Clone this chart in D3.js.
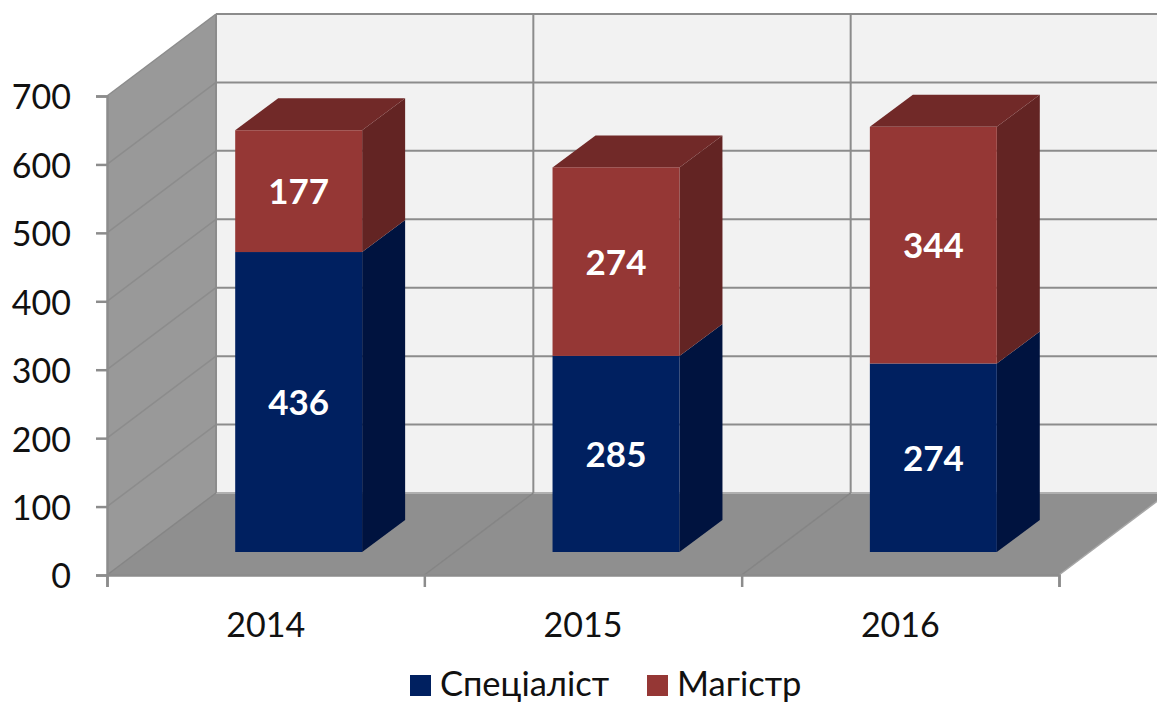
<!DOCTYPE html>
<html>
<head>
<meta charset="utf-8">
<script src="https://cdn.jsdelivr.net/npm/d3@7"></script>
<style>
	html, body { margin: 0; padding: 0; background: #fff; }
	svg { display: block; }
	text { font-family: Lato, "Open Sans", sans-serif; }
</style>
</head>
<body>
<div id="chart"></div>
<script>
//Chart values
let years = ["2014", "2015", "2016"];
let seriesNames = ["Спеціаліст", "Магістр"];
let specialist = [436, 285, 274];
let master = [177, 274, 344];
let yTicks = [0, 100, 200, 300, 400, 500, 600, 700];

//Colours: front, side, top
let seriesColors = [
	["#002060", "#00133f", "#00133f"],
	["#953735", "#632423", "#712928"]
];

//Dimensions
let width = 1157;
let height = 703;
let axisLeft = 107;
let axisRight = 1059;
let wallDx = 109;
let wallDy = -82;
let barShiftX = 33;
let barFloor = 552;
let barDx = 43;
let barDy = -32;

//Scales
let y = d3.scaleLinear().domain([0, 700]).range([575, 96]);
let yBar = d3.scaleLinear().domain([0, 700]).range([barFloor, barFloor - 481.6]);
let x = d3.scaleBand().domain(years).range([axisLeft, axisRight]).paddingInner(0.6).paddingOuter(0.3);
let xEdges = d3.scaleLinear().domain([0, years.length]).range([axisLeft, axisRight]);

let table = years.map(function(d, i){
	return { year: d, "Спеціаліст": specialist[i], "Магістр": master[i] };
});
let stacked = d3.stack().keys(seriesNames)(table);

//SVG container
let svg = d3.select("#chart").append("svg")
	.attr("width", width)
	.attr("height", height);

let polygon = function(points){
	return points.map(function(p){ return p[0] + "," + p[1]; }).join(" ");
}

//Back wall
svg.append("rect")
	.attr("x", axisLeft + wallDx)
	.attr("y", y(700) + wallDy)
	.attr("width", axisRight - axisLeft)
	.attr("height", y(0) - y(700))
	.attr("fill", "#f2f2f2");

//Side wall
svg.append("polygon")
	.attr("points", polygon([
		[axisLeft, y(0)],
		[axisLeft, y(700)],
		[axisLeft + wallDx, y(700) + wallDy],
		[axisLeft + wallDx, y(0) + wallDy]
	]))
	.attr("fill", "#999999");

//Floor
svg.append("polygon")
	.attr("points", polygon([
		[axisLeft, y(0)],
		[axisRight, y(0)],
		[axisRight + wallDx, y(0) + wallDy],
		[axisLeft + wallDx, y(0) + wallDy]
	]))
	.attr("fill", "#8f8f8f");

//Horizontal gridlines on the back wall and the side wall
let gridColor = "#8c8c8c";
svg.selectAll(".gridBack")
		.data(yTicks)
	.enter()
		.append("line")
			.attr("class", "gridBack")
			.attr("x1", axisLeft + wallDx)
			.attr("x2", axisRight + wallDx)
			.attr("y1", function(d){ return y(d) + wallDy; })
			.attr("y2", function(d){ return y(d) + wallDy; })
			.attr("stroke", function(d){ return d == 0 ? "#b0b0b0" : gridColor; })
			.attr("stroke-width", 2);

svg.selectAll(".gridSide")
		.data(yTicks.slice(1))
	.enter()
		.append("line")
			.attr("class", "gridSide")
			.attr("x1", axisLeft)
			.attr("x2", axisLeft + wallDx)
			.attr("y1", function(d){ return y(d); })
			.attr("y2", function(d){ return y(d) + wallDy; })
			.attr("stroke", gridColor)
			.attr("stroke-width", 1.5);

//Vertical gridlines on the back wall and their floor lines
svg.selectAll(".gridVert")
		.data([0, 1, 2, 3])
	.enter()
		.append("line")
			.attr("class", "gridVert")
			.attr("x1", function(d){ return xEdges(d) + wallDx; })
			.attr("x2", function(d){ return xEdges(d) + wallDx; })
			.attr("y1", y(700) + wallDy)
			.attr("y2", y(0) + wallDy)
			.attr("stroke", gridColor)
			.attr("stroke-width", 2);

svg.selectAll(".gridFloor")
		.data([0, 1, 2])
	.enter()
		.append("line")
			.attr("class", "gridFloor")
			.attr("x1", function(d){ return xEdges(d); })
			.attr("x2", function(d){ return xEdges(d) + wallDx; })
			.attr("y1", y(0))
			.attr("y2", y(0) + wallDy)
			.attr("stroke", "#858585")
			.attr("stroke-width", 1.5);

//Right edge of the floor
svg.append("line")
	.attr("x1", axisRight)
	.attr("x2", axisRight + wallDx)
	.attr("y1", y(0))
	.attr("y2", y(0) + wallDy)
	.attr("stroke", "#a6a6a6")
	.attr("stroke-width", 1.5);

//Bars
stacked.forEach(function(layer, s){
	let colors = seriesColors[s];
	let group = svg.append("g").attr("class", "series");

	layer.forEach(function(d, i){
		let x0 = x(years[i]) + barShiftX;
		let x1 = x0 + x.bandwidth();
		let yBottom = yBar(d[0]);
		let yTop = yBar(d[1]);

		//Side face
		group.append("polygon")
			.attr("points", polygon([
				[x1, yBottom],
				[x1, yTop],
				[x1 + barDx, yTop + barDy],
				[x1 + barDx, yBottom + barDy]
			]))
			.attr("fill", colors[1]);

		//Top face, only the upper series shows one
		if(s == stacked.length - 1){
			group.append("polygon")
				.attr("points", polygon([
					[x0, yTop],
					[x1, yTop],
					[x1 + barDx, yTop + barDy],
					[x0 + barDx, yTop + barDy]
				]))
				.attr("fill", colors[2]);
		}

		//Front face
		group.append("rect")
			.attr("x", x0)
			.attr("y", yTop)
			.attr("width", x.bandwidth())
			.attr("height", yBottom - yTop)
			.attr("fill", colors[0]);

		//Value label
		group.append("text")
			.attr("x", (x0 + x1) / 2)
			.attr("y", (yTop + yBottom) / 2)
			.attr("dy", "0.37em")
			.attr("text-anchor", "middle")
			.attr("fill", "#ffffff")
			.style("font-size", "35px")
			.style("font-weight", "700")
			.text(d[1] - d[0]);
	});
});

//Value axis
let yAxis = svg.append("g")
	.attr("transform", "translate(" + axisLeft + ",0)")
	.call(d3.axisLeft(y).tickValues(yTicks).tickSize(11).tickPadding(25));

//Category axis ticks and labels
let xTickAxis = svg.append("g")
	.attr("transform", "translate(0," + y(0) + ")")
	.call(d3.axisBottom(xEdges).tickValues([0, 1, 2, 3]).tickSize(12).tickFormat(""));

let xLabelAxis = svg.append("g")
	.attr("transform", "translate(0," + y(0) + ")")
	.call(d3.axisBottom(x).tickSize(0).tickPadding(38));
xLabelAxis.select(".domain").remove();

[yAxis, xTickAxis].forEach(function(axis){
	axis.selectAll(".domain").attr("stroke", "#8c8c8c").attr("stroke-width", 2.5);
	axis.selectAll(".tick line").attr("stroke", "#8c8c8c").attr("stroke-width", 2.5);
});
[yAxis, xLabelAxis].forEach(function(axis){
	axis.selectAll("text")
		.attr("fill", "#111111")
		.style("font-family", "Lato, 'Open Sans', sans-serif")
		.style("font-size", "34px");
});
yAxis.selectAll("text").attr("dy", "0.38em");

//Legend
let legendX = [410, 647];
let legend = svg.selectAll(".legendItem")
		.data(seriesNames)
	.enter()
		.append("g")
			.attr("class", "legendItem")
			.attr("transform", function(d, i){
				return "translate(" + legendX[i] + ",675)";
			});

legend.append("rect")
	.attr("width", 21)
	.attr("height", 21)
	.attr("fill", function(d, i){ return seriesColors[i][0]; });

legend.append("text")
	.attr("x", 30)
	.attr("y", 21)
	.attr("fill", "#111111")
	.style("font-size", "34.5px")
	.text(function(d){ return d; });
</script>
</body>
</html>
